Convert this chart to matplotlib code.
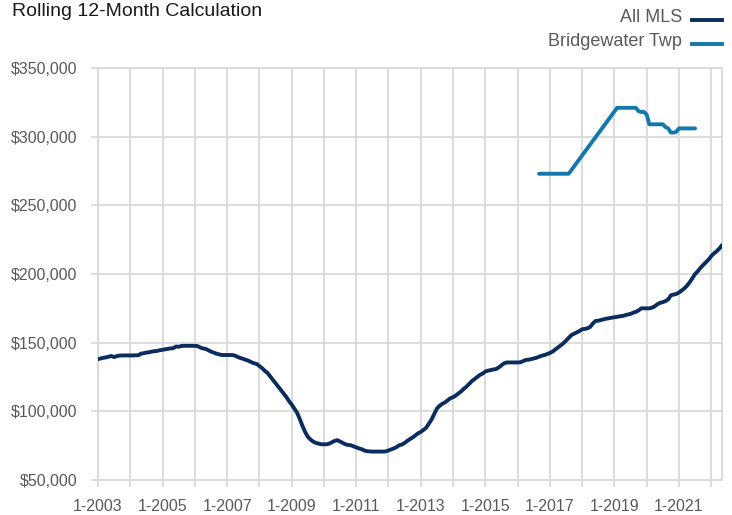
import matplotlib
matplotlib.use("Agg")
import matplotlib.pyplot as plt
from matplotlib import font_manager
from matplotlib.lines import Line2D
from matplotlib.ticker import FuncFormatter, FixedLocator

# ---- data (monthly, starting 1-2003) ----
start_year = 2003
all_mls = [
    138.0, 138.5, 139.0, 139.3, 139.8, 140.3, 139.5, 140.2, 140.6, 140.7, 140.7, 140.7,  # 2003
    140.7, 140.7, 140.8, 140.8, 142.0, 142.3, 142.8, 143.0, 143.5, 143.8, 144.0, 144.5,  # 2004
    144.8, 145.2, 145.5, 145.8, 146.0, 147.2, 147.0, 147.6, 147.7, 147.7, 147.7, 147.7,  # 2005
    147.7, 147.5, 146.5, 145.8, 145.5, 144.5, 143.5, 142.8, 142.0, 141.5, 141.0, 141.0,  # 2006
    141.0, 141.0, 141.0, 140.5, 139.5, 138.8, 138.2, 137.5, 136.8, 135.8, 135.0, 134.5,  # 2007
    133.0, 131.5, 129.5, 128.0, 125.5, 123.0, 120.5, 118.0, 115.5, 113.0, 110.5, 107.5,  # 2008
    105.0, 102.0, 99.0, 94.5, 89.5, 85.0, 81.5, 79.5, 78.0, 77.0, 76.5, 76.0,            # 2009
    76.0, 76.0, 76.5, 77.5, 78.5, 79.0, 78.0, 77.0, 76.0, 75.5, 75.3, 74.5,              # 2010
    73.8, 73.0, 72.5, 71.5, 71.0, 70.8, 70.7, 70.7, 70.7, 70.7, 70.7, 70.8,              # 2011
    71.5, 72.3, 73.0, 74.0, 75.3, 75.8, 77.0, 78.5, 79.8, 81.0, 82.5, 84.0,              # 2012
    85.0, 86.5, 88.0, 91.0, 94.0, 98.0, 102.0, 104.0, 105.5, 106.5, 108.0, 109.5,        # 2013
    110.3, 111.5, 113.0, 114.5, 116.4, 118.0, 120.0, 122.0, 123.5, 125.0, 126.5, 127.5,  # 2014
    129.0, 129.6, 130.0, 130.5, 130.8, 132.0, 133.5, 135.0, 135.6, 135.6, 135.6, 135.6,  # 2015
    135.6, 135.7, 136.5, 137.4, 137.6, 138.0, 138.5, 139.0, 139.8, 140.5, 141.0, 141.7,  # 2016
    142.5, 143.5, 145.0, 146.5, 148.0, 149.5, 151.5, 153.5, 155.5, 156.5, 157.5, 158.5,  # 2017
    159.8, 160.0, 160.5, 161.5, 164.0, 165.8, 166.0, 166.5, 167.0, 167.5, 167.8, 168.2,  # 2018
    168.5, 168.8, 169.2, 169.4, 170.0, 170.5, 171.0, 171.8, 172.5, 173.5, 175.0, 175.0,  # 2019
    175.0, 175.0, 175.5, 176.5, 178.0, 179.0, 179.5, 180.3, 181.5, 184.5, 185.0, 185.5,  # 2020
    186.5, 188.0, 189.5, 191.5, 194.0, 197.0, 200.0, 202.0, 204.5, 206.5, 208.5, 210.5,  # 2021
    213.0, 215.0, 216.5, 218.5, 221.0,                                                    # 2022
]

# Bridgewater Twp starts 9-2016 (None = no sales that month; line connects)
bw_start_index = 164
bridgewater = (
    [273.0] * 12 +          # 9-2016 .. 8-2017
    [None] * 17 +           # 9-2017 .. 1-2019
    [321.0] * 8 +           # 2-2019 .. 9-2019
    [318.5, 318.0, 318.0, 316.0, 309.0, 309.0, 309.0, 309.0, 309.0,
     309.0, 307.0, 306.0, 303.0, 303.0, 303.5,
     306.0, 306.0, 306.0, 306.0, 306.0, 306.0, 306.0]
)

x_tick_labels = [f"1-{y}" for y in range(2003, 2022, 2)]
y_ticks = [50000, 100000, 150000, 200000, 250000, 300000, 350000]
series_names = ["All MLS", "Bridgewater Twp"]

# ---- style ----
avail = {f.name for f in font_manager.fontManager.ttflist}
FONT = "Liberation Sans Narrow" if "Liberation Sans Narrow" in avail else "Liberation Sans"
plt.rcParams["font.family"] = [FONT, "DejaVu Sans"]

C_MLS = "#0b2d5e"
C_BW = "#1379ad"
GRID = "#d9d9d9"
TXT = "#595959"

W, H = 732, 515
fig = plt.figure(figsize=(W / 100, H / 100), dpi=100)
L, R, T, B = 98, 722, 68, 480
ax = fig.add_axes([L / W, 1 - B / H, (R - L) / W, (B - T) / H])

mls_x = list(range(len(all_mls)))
mls_y = [v * 1000 for v in all_mls]
bw_pts = [(bw_start_index + i, v * 1000) for i, v in enumerate(bridgewater) if v is not None]
bw_x = [p[0] for p in bw_pts]
bw_y = [p[1] for p in bw_pts]

ax.plot(mls_x, mls_y, color=C_MLS, lw=2.8, solid_capstyle="round", zorder=3)
ax.plot(bw_x, bw_y, color=C_BW, lw=2.8, solid_capstyle="round", zorder=3)

ax.set_xlim(0, len(all_mls) - 1)
ax.set_ylim(50000, 350000)

xt = list(range(0, len(all_mls), 12))
ax.xaxis.set_major_locator(FixedLocator(xt))
labels = []
for i, t in enumerate(xt):
    labels.append(x_tick_labels[i // 2] if i % 2 == 0 else "")
ax.set_xticklabels(labels)
ax.set_yticks(y_ticks)
ax.yaxis.set_major_formatter(FuncFormatter(lambda v, p: f"${v:,.0f}"))

ax.grid(True, color=GRID, lw=1.3, zorder=0)
ax.set_axisbelow(True)
for s in ax.spines.values():
    s.set_color(GRID)
    s.set_linewidth(1.3)
ax.tick_params(axis="both", colors=GRID, length=5, width=1.3, direction="out",
               labelcolor=TXT, labelsize=11.5)
ax.tick_params(axis="y", pad=10)
ax.tick_params(axis="x", pad=9)

fig.text(12 / W, 1 - 12 / H, "Rolling 12-Month Calculation", fontsize=14,
         color="#1a1a1a", ha="left", va="center")

leg_y = [18, 42]
for name, col, yy in zip(series_names, [C_MLS, C_BW], leg_y):
    fig.text(682 / W, 1 - yy / H, name, fontsize=13, color=TXT, ha="right", va="center")
    fig.add_artist(Line2D([692 / W, 722 / W], [1 - (yy + 2) / H, 1 - (yy + 2) / H],
                          color=col, lw=2.8, transform=fig.transFigure))

fig.savefig("out.png", dpi=100)
